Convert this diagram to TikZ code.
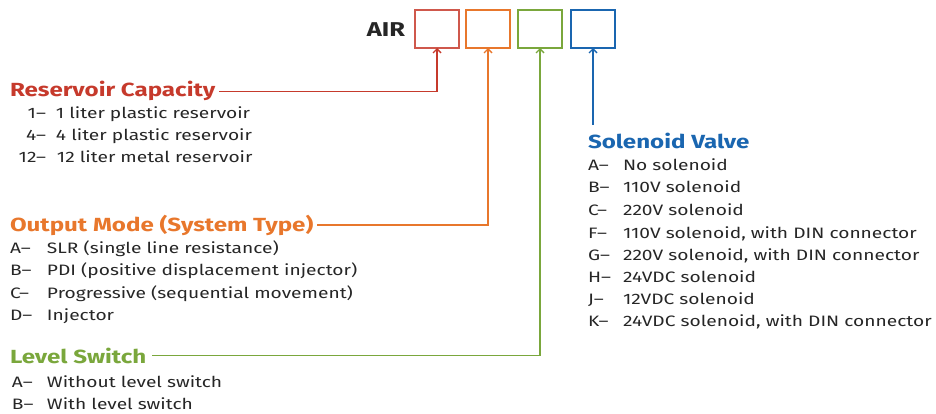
\documentclass[tikz,border=0pt]{standalone}
\usepackage{fontspec}
\setmainfont{Fira Sans}[FakeStretch=1.27]
\usepackage{tikz}
\usetikzlibrary{arrows.meta}

\definecolor{capred}{HTML}{C63A2C}
\definecolor{modeorange}{HTML}{E8772C}
\definecolor{levelgreen}{HTML}{7AA73C}
\definecolor{solblue}{HTML}{1A66B0}
\definecolor{itemgray}{HTML}{262626}

\begin{document}
\begin{tikzpicture}[x=1pt, y=-1pt,
  every node/.style={inner sep=0pt, outer sep=0pt},
  codebox/.style={draw, line width=1.4pt, minimum width=44pt, minimum height=38pt, anchor=north west},
  title/.style={anchor=base west, font=\fontsize{19}{19}\selectfont\bfseries},
  item/.style={anchor=base west, text=itemgray, font=\fontsize{15.1}{16}\selectfont},
  feed/.style={line width=1.4pt, -{Straight Barb[length=4pt, width=8pt, line width=1.4pt]}}]
  \useasboundingbox (0,0) rectangle (936,414);

  % Order code
  \node[anchor=base east, text=itemgray, font=\fontsize{20}{20}\selectfont\bfseries] (air) at (405,37) {AIR};
  \node[codebox, draw=capred!85] (capBox) at (415,10) {};
  \node[codebox, draw=modeorange] (modeBox) at (466,10) {};
  \node[codebox, draw=levelgreen] (levelBox) at (518,10) {};
  \node[codebox, draw=solblue] (solBox) at (571,10) {};

  % Reservoir Capacity
  \node[title, text=capred] (capTitle) at (10,97) {Reservoir Capacity};
  \node[item] (cap1) at (10,119) {\makebox[36pt][r]{1\textendash}\hspace{10pt}1 liter plastic reservoir};
  \node[item] (cap4) at (10,141) {\makebox[36pt][r]{4\textendash}\hspace{10pt}4 liter plastic reservoir};
  \node[item] (cap12) at (10,163) {\makebox[36pt][r]{12\textendash}\hspace{11pt}12 liter metal reservoir};

  % Output Mode
  \node[title, text=modeorange] (modeTitle) at (10,231) {Output Mode (System Type)};
  \node[item] (modeA) at (10,253) {\makebox[37pt][l]{A\textendash}SLR (single line resistance)};
  \node[item] (modeB) at (10,275) {\makebox[37pt][l]{B\textendash}PDI (positive displacement injector)};
  \node[item] (modeC) at (10,298) {\makebox[37pt][l]{C\textendash}Progressive (sequential movement)};
  \node[item] (modeD) at (10,320) {\makebox[37pt][l]{D\textendash}Injector};

  % Level Switch
  \node[title, text=levelgreen] (levelTitle) at (10,363) {Level Switch};
  \node[item] (levelA) at (12,387) {\makebox[35pt][l]{A\textendash}Without level switch};
  \node[item] (levelB) at (12,409) {\makebox[35pt][l]{B\textendash}With level switch};

  % Solenoid Valve
  \node[title, text=solblue] (solTitle) at (588,149) {Solenoid Valve};
  \node[item] (solA) at (588,171) {\makebox[35pt][l]{A\textendash}No solenoid};
  \node[item] (solB) at (588,193) {\makebox[35pt][l]{B\textendash}110V solenoid};
  \node[item] (solC) at (588,215) {\makebox[35pt][l]{C\textendash}220V solenoid};
  \node[item] (solF) at (588,238) {\makebox[35pt][l]{F\textendash}110V solenoid, with DIN connector};
  \node[item] (solG) at (588,260) {\makebox[35pt][l]{G\textendash}220V solenoid, with DIN connector};
  \node[item] (solH) at (588,282) {\makebox[35pt][l]{H\textendash}24VDC solenoid};
  \node[item] (solJ) at (588,304) {\makebox[35pt][l]{J\textendash}12VDC solenoid};
  \node[item] (solK) at (588,326) {\makebox[35pt][l]{K\textendash}24VDC solenoid, with DIN connector};
  \coordinate (solFoot) at (593,125);

  % Connectors
  \draw[feed, capred] ([xshift=4pt]capTitle.east) -| (capBox.south);
  \draw[feed, modeorange] ([xshift=4pt]modeTitle.east) -| (modeBox.south);
  \draw[feed, levelgreen] ([xshift=6pt]levelTitle.east) -| (levelBox.south);
  \draw[feed, solblue] (solFoot) -- (solBox.south);
\end{tikzpicture}
\end{document}
